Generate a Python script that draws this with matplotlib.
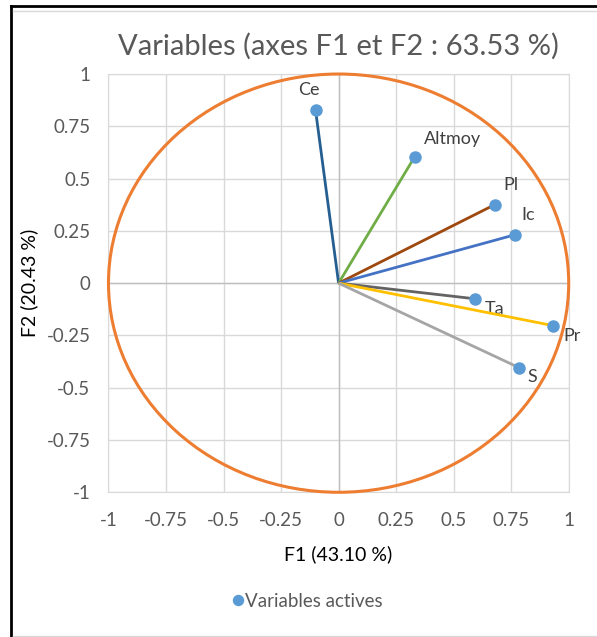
import matplotlib
matplotlib.use("Agg")
import matplotlib.pyplot as plt
from matplotlib.patches import Circle
from matplotlib.lines import Line2D

# coordonnees des variables sur F1 / F2
names = ["Ce", "Altmoy", "Pl", "Ic", "Ta", "Pr", "S"]
f1 = [-0.10, 0.33, 0.678, 0.765, 0.594, 0.932, 0.784]
f2 = [0.826, 0.603, 0.375, 0.231, -0.075, -0.203, -0.404]
line_colors = ["#255E91", "#70AD47", "#9E480E", "#4472C4", "#636363", "#FFC000", "#A5A5A5"]
label_offsets = [(-7, 20), (9, 18), (9, 20), (7, 20), (9, -10), (10, -10), (8, -9)]
ticks = [-1, -0.75, -0.5, -0.25, 0, 0.25, 0.5, 0.75, 1]
tick_labels = ["-1", "-0.75", "-0.5", "-0.25", "0", "0.25", "0.5", "0.75", "1"]

plt.rcParams.update({
    "font.family": ["Lato", "DejaVu Sans"],
    "font.size": 13.5,
    "text.color": "#595959",
    "xtick.color": "#595959",
    "ytick.color": "#595959",
})

fig = plt.figure(figsize=(5.97, 6.37), dpi=100)
ax = fig.add_axes([0.1817, 0.2272, 0.7709, 0.6566])

ax.set_xlim(-1, 1)
ax.set_ylim(-1, 1)
ax.set_xticks(ticks)
ax.set_yticks(ticks)
ax.set_xticklabels(tick_labels, fontsize=13.5)
ax.set_yticklabels(tick_labels, fontsize=13.5)
ax.tick_params(axis="y", length=0, pad=13)
ax.tick_params(axis="x", length=0, pad=14)
ax.grid(True, color="#D9D9D9", lw=1)
for sp in ax.spines.values():
    sp.set_color("#D9D9D9")
ax.axhline(0, color="#BFBFBF", lw=1)
ax.axvline(0, color="#BFBFBF", lw=1)

ax.add_patch(Circle((0, 0), 1, fill=False, ec="#ED7D31", lw=2.2, zorder=3, clip_on=False))

for x, y, c in zip(f1, f2, line_colors):
    ax.plot([0, x], [0, y], color=c, lw=2, zorder=4, solid_capstyle="butt")
ax.plot(f1, f2, "o", color="#5B9BD5", ms=8, zorder=5, label="Variables actives")

for n, x, y, off in zip(names, f1, f2, label_offsets):
    ax.annotate(n, (x, y), xytext=off, textcoords="offset pixels",
                fontsize=13, color="#404040", ha="left" if off[0] > 0 else "center",
                va="center")

ax.set_xlabel("F1 (43.10 %)", fontsize=14, labelpad=12)
ax.set_ylabel("F2 (20.43 %)", fontsize=14, labelpad=6)
ax.set_title("Variables (axes F1 et F2 : 63.53 %)", fontsize=21, color="#595959", pad=14)

fig.legend(loc="center", bbox_to_anchor=(0.51, 0.056), frameon=False,
           handletextpad=-0.2, markerscale=0.9, fontsize=13.5, handlelength=1.2)

# cadre
fig.add_artist(Line2D([0.0176, 0.0176], [0, 0.991], color="black", lw=2, transform=fig.transFigure))
fig.add_artist(Line2D([0.0176, 1], [0.991, 0.991], color="black", lw=2, transform=fig.transFigure))
fig.add_artist(Line2D([0.022, 1], [0.983, 0.983], color="#D9D9D9", lw=1, transform=fig.transFigure))
fig.add_artist(Line2D([0.022, 1], [0.002, 0.002], color="#D9D9D9", lw=1, transform=fig.transFigure))

fig.savefig("out.png", dpi=100)
